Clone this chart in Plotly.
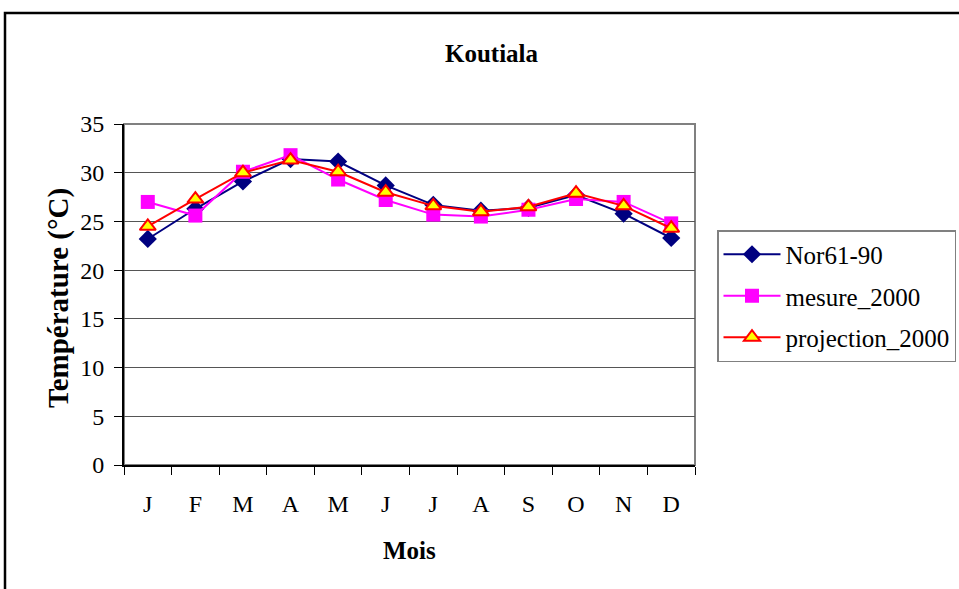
import plotly.graph_objects as go

months = ["J", "F", "M", "A", "M ", "J ", "J  ", "A ", "S", "O", "N", "D"]
month_labels = ["J", "F", "M", "A", "M", "J", "J", "A", "S", "O", "N", "D"]

nor61_90 = [23.2, 26.3, 29.1, 31.4, 31.15, 28.7, 26.7, 26.1, 26.4, 27.7, 25.8, 23.3]
mesure_2000 = [27.0, 25.6, 30.1, 31.8, 29.3, 27.2, 25.7, 25.5, 26.2, 27.3, 27.0, 24.8]
projection_2000 = [24.5, 27.3, 30.0, 31.3, 30.1, 28.0, 26.6, 26.0, 26.5, 27.9, 26.6, 24.3]

W, H = 959, 589
L, R, T, B = 124, 695, 124, 465
pw, ph = R - L, B - T

def px_x(x):
    return (x - L) / pw

def px_y(y):
    return (B - y) / ph

FONT = "Liberation Serif, Times New Roman, serif"

fig = go.Figure()
fig.add_trace(go.Scatter(
    x=months, y=nor61_90, name="Nor61-90", mode="lines+markers",
    line=dict(color="#000080", width=2),
    marker=dict(symbol="diamond", size=14, color="#000080"),
    legendgroup="a",
))
fig.add_trace(go.Scatter(
    x=months, y=mesure_2000, name="mesure_2000", mode="lines+markers",
    line=dict(color="#FF00FF", width=2),
    marker=dict(symbol="square", size=14, color="#FF00FF"),
    legendgroup="b",
))
fig.add_trace(go.Scatter(
    x=months, y=projection_2000, name="projection_2000", mode="lines+markers",
    line=dict(color="#FF0000", width=2),
    marker=dict(symbol="triangle-up", size=14, color="#FFFF00",
                line=dict(color="#FF0000", width=2)),
    legendgroup="c",
))

fig.update_layout(
    width=W, height=H,
    margin=dict(l=L, r=W - R, t=T, b=H - B, autoexpand=False),
    paper_bgcolor="white", plot_bgcolor="white",
    font=dict(family=FONT, size=24, color="black"),
    showlegend=True,
    legend=dict(
        x=px_x(717), y=px_y(230), xanchor="left", yanchor="top",
        bordercolor="#808080", borderwidth=1.5, bgcolor="white",
        font=dict(family=FONT, size=25, color="black"),
        itemwidth=57, tracegroupgap=6,
    ),
    xaxis=dict(
        type="category", categoryorder="array", categoryarray=months,
        tickvals=months, ticktext=month_labels,
        tickson="boundaries", ticks="outside", ticklen=8, tickcolor="black",
        showline=True, linecolor="black", linewidth=2, mirror=False,
        showgrid=False, ticklabelstandoff=16, automargin=False,
        tickfont=dict(family=FONT, size=24),
        range=[-0.5, 11.5],
    ),
    yaxis=dict(
        range=[0, 35], dtick=5, ticks="outside", ticklen=8, tickcolor="black",
        showline=True, linecolor="black", linewidth=2,
        showgrid=True, gridcolor="#555555", gridwidth=1,
        zeroline=False, ticklabelstandoff=5, automargin=False,
        tickfont=dict(family=FONT, size=24),
    ),
    shapes=[
        # plot area frame (top/right)
        dict(type="rect", xref="paper", yref="paper", x0=0, x1=1, y0=0, y1=1,
             line=dict(color="#808080", width=2), layer="below"),
        # outer chart border
        dict(type="rect", xref="paper", yref="paper",
             x0=px_x(5), x1=px_x(W + 20), y0=px_y(H + 20), y1=px_y(13),
             line=dict(color="black", width=2.5)),
    ],
    annotations=[
        dict(text="<b>Koutiala</b>", xref="paper", yref="paper",
             x=px_x(492), y=px_y(54), xanchor="center", yanchor="middle",
             showarrow=False, font=dict(family=FONT, size=25)),
        dict(text="<b>Mois</b>", xref="paper", yref="paper",
             x=px_x(409), y=px_y(550), xanchor="center", yanchor="middle",
             showarrow=False, font=dict(family=FONT, size=25)),
        dict(text="<b>Température (°C)</b>", xref="paper", yref="paper",
             x=px_x(58), y=px_y(298), xanchor="center", yanchor="middle",
             showarrow=False, textangle=-90,
             font=dict(family=FONT, size=29)),
    ],
)

fig.write_html("out.html")
